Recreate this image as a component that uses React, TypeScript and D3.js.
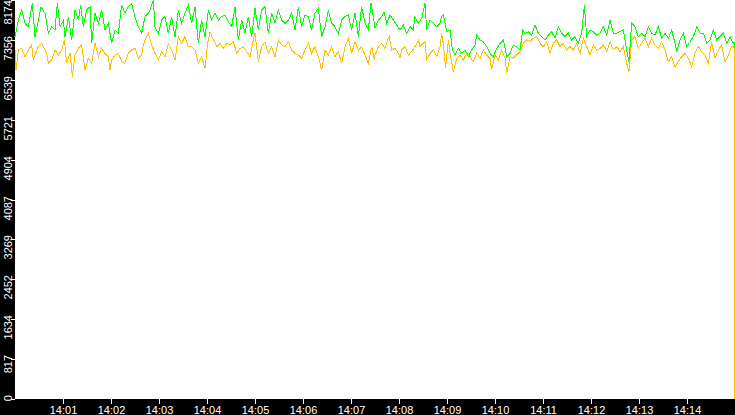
import React, { useEffect, useRef } from "react";
import * as d3 from "d3";

// seconds after 14:00:00, value
const greenSeries: [number, number][] = [
  [0.0, 7423], [4.2, 7764], [8.3, 7969], [12.5, 7696], [16.7, 7628], [21.7, 8106], [25.0, 7423], [29.2, 7764],
  [32.5, 8037], [37.5, 7901], [41.7, 7491], [45.8, 7628], [50.0, 7559], [52.9, 8106], [56.3, 7628], [60.4, 7764],
  [62.5, 7423], [66.7, 7833], [70.8, 7355], [75.0, 7969], [79.2, 7764], [82.1, 8072], [85.4, 7628], [89.6, 7969],
  [93.8, 8037], [95.8, 7286], [100.0, 7901], [104.2, 7696], [108.3, 7969], [112.5, 7559], [116.7, 7696], [120.8, 7286],
  [125.0, 7559], [129.2, 7491], [133.3, 8072], [137.5, 7901], [141.7, 8037], [145.8, 8106], [150.0, 7833], [154.2, 7628],
  [158.3, 7491], [162.5, 7833], [166.7, 7901], [168.8, 7969], [172.9, 8174], [175.0, 7628], [179.2, 7491], [183.3, 7764],
  [187.5, 7833], [191.7, 7491], [195.8, 7833], [200.0, 7423], [204.2, 7969], [208.3, 7696], [212.5, 7901], [216.7, 8072],
  [220.8, 7696], [225.0, 8037], [229.2, 7286], [233.3, 7764], [237.5, 7423], [241.7, 7969], [245.8, 7764], [250.0, 7901],
  [254.2, 7764], [258.3, 7833], [262.5, 7867], [266.7, 7730], [270.8, 7628], [275.0, 8037], [279.2, 7355], [283.3, 7764],
  [287.5, 7491], [291.7, 7833], [295.8, 7423], [300.0, 8003], [304.2, 7559], [308.3, 7969], [312.5, 8037], [316.7, 7491],
  [320.8, 7901], [325.0, 7696], [329.2, 7969], [333.3, 7764], [337.5, 7696], [341.7, 7764], [345.8, 7901], [350.0, 7559],
  [354.2, 8037], [358.3, 7628], [362.5, 7867], [366.7, 7833], [370.8, 7559], [375.0, 7901], [379.2, 8003], [383.3, 7423],
  [387.5, 7628], [391.7, 7969], [395.8, 7696], [400.0, 7628], [404.2, 7491], [408.3, 7764], [412.5, 7833], [416.7, 7867],
  [420.8, 7559], [425.0, 7901], [429.2, 7423], [433.3, 8037], [437.5, 7696], [441.7, 7559], [445.0, 8106], [447.9, 7833],
  [450.0, 7594], [454.2, 7764], [458.3, 7833], [461.3, 7935], [464.6, 7696], [468.8, 7867], [472.9, 7764], [477.1, 7662],
  [481.3, 7559], [485.4, 7662], [489.6, 7491], [493.8, 7628], [497.9, 7559], [500.0, 7833], [504.2, 7696], [508.3, 7798],
  [512.5, 8106], [514.6, 7559], [518.8, 7764], [522.9, 7696], [527.1, 7628], [531.3, 7696], [533.3, 7833], [535.4, 7867],
  [539.6, 7525], [543.8, 7559], [546.7, 7150], [550.0, 7047], [554.2, 7184], [558.3, 7081], [562.5, 7150], [566.7, 7013],
  [570.8, 7150], [575.0, 7252], [577.1, 7457], [581.3, 7355], [585.4, 7320], [589.6, 7218], [593.8, 7081], [597.9, 7013],
  [602.1, 7184], [606.3, 7286], [610.4, 7355], [614.6, 7013], [618.8, 7081], [622.9, 7252], [627.1, 7218], [631.3, 7150],
  [634.6, 7559], [637.5, 7491], [641.7, 7525], [645.8, 7457], [650.0, 7662], [654.2, 7491], [658.3, 7423], [662.5, 7355],
  [666.7, 7457], [670.8, 7525], [675.0, 7389], [679.2, 7628], [683.3, 7491], [687.5, 7423], [691.7, 7491], [695.8, 7355],
  [700.0, 7423], [704.2, 7286], [708.3, 7491], [711.7, 8072], [714.6, 7423], [718.8, 7559], [722.9, 7525], [727.1, 7457],
  [731.3, 7491], [735.4, 7628], [739.6, 7457], [743.8, 7764], [747.9, 7491], [752.1, 7491], [756.3, 7525], [760.4, 7559],
  [764.6, 7150], [767.5, 6911], [770.8, 7696], [775.0, 7628], [779.2, 7423], [783.3, 7491], [787.5, 7423], [791.7, 7628],
  [795.8, 7491], [800.0, 7457], [804.2, 7628], [808.3, 7389], [812.5, 7491], [816.7, 7389], [820.8, 7559], [825.0, 7286],
  [827.1, 7116], [831.3, 7355], [835.4, 7491], [839.6, 7218], [843.8, 7320], [847.9, 7423], [852.1, 7628], [856.3, 7491],
  [860.4, 7491], [864.6, 7286], [868.8, 7355], [872.9, 7559], [877.1, 7355], [881.3, 7423], [885.4, 7491], [889.6, 7286],
  [893.8, 7423], [897.9, 7286], [899.0, 7320], [899.2, 3626],
];

const orangeSeries: [number, number][] = [
  [0.0, 7150], [1.3, 6740], [4.2, 7150], [8.3, 7184], [12.5, 7013], [16.7, 7150], [20.8, 7252], [22.9, 6945],
  [25.0, 7047], [29.2, 7218], [33.3, 7286], [37.5, 7150], [39.6, 7081], [41.7, 6877], [45.8, 6945], [50.0, 7150],
  [54.2, 7047], [58.3, 7150], [61.7, 7355], [64.6, 6877], [68.8, 7081], [71.7, 6603], [75.0, 7047], [79.2, 7184],
  [83.3, 7252], [87.5, 6740], [91.7, 6979], [95.8, 6877], [100.0, 7286], [104.2, 7013], [108.3, 7184], [112.5, 7081],
  [116.7, 7013], [118.8, 6740], [120.8, 6945], [125.0, 7047], [129.2, 7081], [133.3, 6911], [137.5, 6877], [141.7, 7081],
  [145.8, 7150], [150.0, 7184], [154.2, 6979], [158.3, 7047], [160.4, 7252], [162.5, 7355], [166.7, 7491], [170.8, 7252],
  [175.0, 7081], [179.2, 6945], [183.3, 7116], [187.5, 7013], [191.7, 7286], [195.8, 7150], [200.0, 6945], [204.2, 7423],
  [208.3, 7286], [212.5, 7423], [216.7, 7218], [220.8, 7218], [225.0, 7150], [229.2, 6877], [233.3, 7013], [237.5, 6774],
  [240.8, 7286], [243.8, 7525], [247.9, 7355], [252.1, 7218], [256.3, 7286], [260.4, 7184], [264.6, 7286], [268.8, 7252],
  [272.9, 7320], [277.1, 7081], [281.3, 7184], [285.4, 7218], [289.6, 7116], [293.8, 7013], [297.9, 7355], [300.0, 7491],
  [304.2, 6911], [308.3, 7218], [312.5, 7320], [316.7, 7081], [320.8, 7218], [325.0, 7013], [329.2, 7355], [333.3, 7252],
  [337.5, 7218], [341.7, 7320], [345.8, 7150], [350.0, 7081], [354.2, 7047], [358.3, 6979], [362.5, 7150], [366.7, 7286],
  [370.8, 7081], [375.0, 7218], [379.2, 7013], [383.3, 6740], [387.5, 7150], [391.7, 7047], [395.8, 7218], [400.0, 7013],
  [404.2, 7116], [408.3, 6877], [412.5, 7218], [416.7, 7389], [420.8, 7081], [425.0, 7320], [429.2, 7150], [433.3, 7218],
  [437.5, 7047], [441.7, 6877], [445.8, 7218], [449.2, 6945],
  [450.0, 7047], [454.2, 7218], [458.3, 7286], [462.5, 7184], [465.8, 7355], [467.9, 7423], [470.8, 7150], [475.0, 7184],
  [479.2, 7081], [481.3, 6979], [483.3, 7150], [487.5, 7218], [491.7, 7047], [495.8, 7116], [500.0, 7218], [504.2, 7355],
  [506.3, 7218], [510.4, 7286], [512.5, 7320], [514.6, 6945], [518.8, 7081], [522.9, 7150], [527.1, 7013], [531.3, 7218],
  [533.3, 7491], [535.4, 7286], [538.3, 6774], [541.7, 7355], [543.8, 7081], [547.9, 6706], [552.1, 6979], [556.3, 7047],
  [560.4, 6945], [564.6, 7081], [568.8, 7013], [572.9, 6911], [577.1, 7081], [581.3, 6979], [585.4, 7150], [589.6, 7047],
  [593.8, 6979], [595.8, 6740], [600.0, 7047], [604.2, 6945], [608.3, 7150], [612.5, 6979], [614.6, 6672], [618.8, 7013],
  [622.9, 6979], [627.1, 7047], [631.3, 7116], [635.4, 7286], [639.6, 7355], [643.8, 7320], [647.9, 7389], [652.1, 7423],
  [656.3, 7286], [660.4, 7218], [664.6, 7320], [668.8, 7081], [672.9, 7286], [677.1, 7355], [681.3, 7218], [685.4, 7286],
  [689.6, 7150], [693.8, 7218], [697.9, 7150], [702.1, 7286], [706.3, 7081], [710.4, 7389], [714.6, 7218], [718.8, 7047],
  [722.9, 7252], [727.1, 7150], [731.3, 7184], [735.4, 7252], [739.6, 7116], [743.8, 7320], [747.9, 7150], [752.1, 7218],
  [756.3, 7116], [760.4, 7218], [764.6, 6877], [767.5, 6706], [770.8, 7355], [775.0, 7423], [779.2, 7184], [783.3, 7286],
  [787.5, 7389], [791.7, 7218], [795.8, 7389], [800.0, 7252], [804.2, 7184], [808.3, 7320], [812.5, 7150], [816.7, 6911],
  [820.8, 7013], [825.0, 6808], [829.2, 6911], [833.3, 7013], [837.5, 7081], [841.7, 6979], [845.8, 6808], [850.0, 7081],
  [854.2, 7218], [858.3, 7116], [862.5, 7047], [866.7, 6877], [870.8, 7320], [875.0, 6979], [879.2, 7150], [883.3, 7252],
  [887.5, 6911], [891.7, 7047], [895.8, 7218], [897.9, 7218], [899.0, 7184], [899.2, 0],
];

const yTickLabels = ["0", "817", "1634", "2452", "3269", "4087", "4904", "5721", "6539", "7356", "8174"];
const xTickLabels = ["14:01", "14:02", "14:03", "14:04", "14:05", "14:06", "14:07", "14:08", "14:09", "14:10", "14:11", "14:12", "14:13", "14:14"];
const startTime = "14:00:00";
const endTime = "14:15:00";

const W = 735;
const H = 415;
const M = { left: 15, right: 0, top: 0, bottom: 16 };
const FONT = "'Liberation Sans', Arial, sans-serif";

export default function App() {
  const ref = useRef<SVGSVGElement>(null);

  useEffect(() => {
    const svg = d3.select(ref.current);
    svg.selectAll("*").remove();
    const parse = d3.timeParse("%H:%M:%S");
    const t0 = parse(startTime)!;
    const t1 = parse(endTime)!;
    const toDate = (s: number) => new Date(t0.getTime() + s * 1000);

    const x = d3.scaleTime().domain([t0, t1]).range([M.left, W - M.right]);
    const yMax = +yTickLabels[yTickLabels.length - 1];
    const y = d3.scaleLinear().domain([0, yMax]).range([H - M.bottom, M.top]);

    svg.append("rect").attr("width", W).attr("height", H).attr("fill", "#000");
    svg
      .append("rect")
      .attr("x", M.left)
      .attr("y", M.top)
      .attr("width", W - M.left - M.right)
      .attr("height", H - M.bottom - M.top)
      .attr("fill", "#fff");

    // y axis
    const yg = svg.append("g");
    yTickLabels.forEach((lbl) => {
      const v = +lbl;
      const py = Math.round(y(v));
      yg.append("line")
        .attr("x1", M.left - 4)
        .attr("x2", M.left)
        .attr("y1", py + 0.5)
        .attr("y2", py + 0.5)
        .attr("stroke", "#fff")
        .attr("shape-rendering", "crispEdges");
      const ay = Math.max(py - 4, 0);
      yg.append("text")
        .attr("transform", `translate(11.5,${ay}) rotate(-90)`)
        .attr("text-anchor", "end")
        .attr("fill", "#fff")
        .attr("font-family", FONT)
        .attr("font-size", 11)
        .text(lbl);
    });

    // x axis
    const xg = svg.append("g");
    xTickLabels.forEach((lbl) => {
      const d = parse(lbl + ":00")!;
      const px = Math.round(x(d));
      xg.append("line")
        .attr("x1", px + 0.5)
        .attr("x2", px + 0.5)
        .attr("y1", H - M.bottom)
        .attr("y2", H - M.bottom + 5)
        .attr("stroke", "#fff")
        .attr("shape-rendering", "crispEdges");
      xg.append("text")
        .attr("x", px + 0.5)
        .attr("y", H - 1.5)
        .attr("text-anchor", "middle")
        .attr("fill", "#fff")
        .attr("font-family", FONT)
        .attr("font-size", 11)
        .text(lbl);
    });

    const line = d3
      .line<[number, number]>()
      .x((d) => x(toDate(d[0])))
      .y((d) => y(d[1]));

    svg
      .append("path")
      .datum(greenSeries)
      .attr("d", line)
      .attr("fill", "none")
      .attr("stroke", "#00ff00")
      .attr("stroke-width", 1)
      .attr("shape-rendering", "crispEdges");
    svg
      .append("path")
      .datum(orangeSeries)
      .attr("d", line)
      .attr("fill", "none")
      .attr("stroke", "#ffc000")
      .attr("stroke-width", 1)
      .attr("shape-rendering", "crispEdges");
  }, []);

  return (
    <svg
      ref={ref}
      width={W}
      height={H}
      style={{ position: "absolute", left: 0, top: 0, display: "block" }}
    />
  );
}
